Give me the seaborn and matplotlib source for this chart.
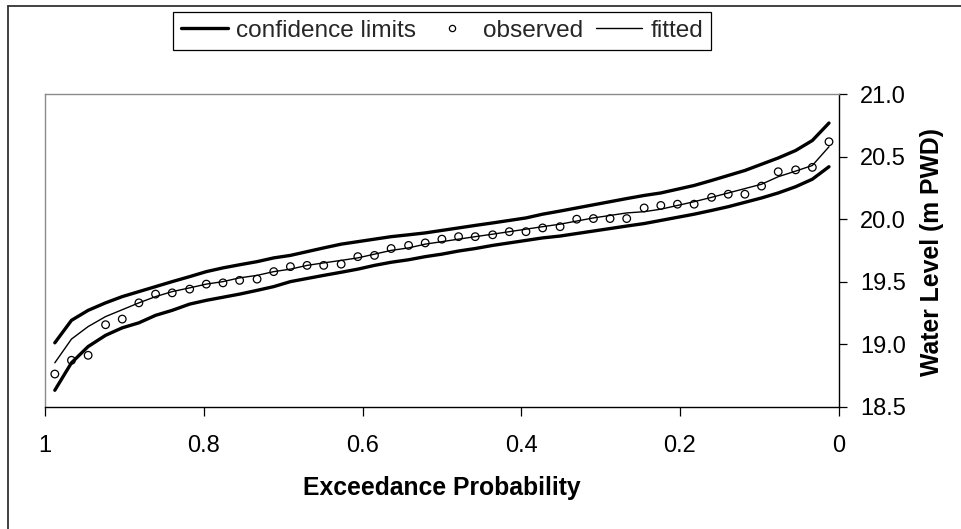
import matplotlib
matplotlib.use("Agg")
import matplotlib.pyplot as plt
from matplotlib.lines import Line2D
import pandas as pd
import seaborn as sns

# ---- data ----
prob = [0.988, 0.967, 0.946, 0.924, 0.903, 0.882, 0.861, 0.840, 0.818, 0.797,
        0.776, 0.755, 0.733, 0.712, 0.691, 0.670, 0.649, 0.627, 0.606, 0.585,
        0.564, 0.542, 0.521, 0.500, 0.479, 0.458, 0.436, 0.415, 0.394, 0.373,
        0.351, 0.330, 0.309, 0.288, 0.267, 0.245, 0.224, 0.203, 0.182, 0.160,
        0.139, 0.118, 0.097, 0.076, 0.054, 0.033, 0.012]

observed = [18.76, 18.87, 18.91, 19.155, 19.20, 19.33, 19.40, 19.41, 19.44, 19.48,
            19.49, 19.51, 19.52, 19.58, 19.62, 19.63, 19.63, 19.64, 19.70, 19.71,
            19.765, 19.79, 19.81, 19.84, 19.86, 19.86, 19.875, 19.90, 19.90, 19.93,
            19.94, 20.00, 20.005, 20.005, 20.005, 20.09, 20.11, 20.12, 20.12, 20.175,
            20.20, 20.20, 20.265, 20.38, 20.395, 20.415, 20.62]

fitted = [18.85, 19.04, 19.14, 19.22, 19.275, 19.33, 19.38, 19.42, 19.45, 19.48,
          19.50, 19.53, 19.55, 19.58, 19.60, 19.63, 19.65, 19.67, 19.69, 19.72,
          19.75, 19.77, 19.80, 19.82, 19.84, 19.86, 19.88, 19.90, 19.92, 19.94,
          19.96, 19.985, 20.01, 20.03, 20.05, 20.06, 20.08, 20.11, 20.14, 20.175,
          20.21, 20.245, 20.28, 20.34, 20.385, 20.43, 20.58]

upper = [19.01, 19.19, 19.27, 19.33, 19.38, 19.42, 19.46, 19.50, 19.54, 19.58,
         19.61, 19.635, 19.66, 19.69, 19.71, 19.74, 19.77, 19.80, 19.82, 19.84,
         19.86, 19.875, 19.89, 19.91, 19.93, 19.95, 19.97, 19.99, 20.01, 20.04,
         20.065, 20.09, 20.115, 20.14, 20.165, 20.19, 20.21, 20.24, 20.27, 20.31,
         20.35, 20.39, 20.44, 20.49, 20.55, 20.63, 20.77]

lower = [18.63, 18.85, 18.98, 19.07, 19.13, 19.17, 19.23, 19.27, 19.32, 19.35,
         19.375, 19.40, 19.43, 19.46, 19.50, 19.525, 19.55, 19.575, 19.60, 19.63,
         19.655, 19.675, 19.70, 19.72, 19.745, 19.765, 19.79, 19.81, 19.83, 19.85,
         19.865, 19.885, 19.905, 19.925, 19.945, 19.965, 19.99, 20.015, 20.04, 20.07,
         20.10, 20.135, 20.17, 20.21, 20.26, 20.32, 20.42]

x_ticks = [1.0, 0.8, 0.6, 0.4, 0.2, 0.0]
x_tick_labels = ["1", "0.8", "0.6", "0.4", "0.2", "0"]
y_ticks = [18.5, 19.0, 19.5, 20.0, 20.5, 21.0]
y_tick_labels = ["18.5", "19.0", "19.5", "20.0", "20.5", "21.0"]

legend_labels = ["confidence limits", "observed", "fitted"]
x_title = "Exceedance Probability"
y_title = "Water Level (m PWD)"

# ---- styling ----
sns.set_theme(style="white")
plt.rcParams['font.family'] = ['Liberation Sans', 'DejaVu Sans']

W, H = 961, 529
fig = plt.figure(figsize=(W / 100, H / 100), dpi=100)
fig.patch.set_facecolor("white")

ax_l, ax_r, ax_t, ax_b = 45.3, 838.5, 94.3, 406.5
ax = fig.add_axes([ax_l / W, 1 - ax_b / H, (ax_r - ax_l) / W, (ax_b - ax_t) / H])
ax.set_facecolor("white")

df = pd.DataFrame({"prob": prob, "observed": observed, "fitted": fitted,
                   "upper": upper, "lower": lower})

sns.lineplot(data=df, x="prob", y="upper", color="black", linewidth=2.4,
             estimator=None, sort=False, ax=ax)
sns.lineplot(data=df, x="prob", y="lower", color="black", linewidth=2.4,
             estimator=None, sort=False, ax=ax)
sns.lineplot(data=df, x="prob", y="fitted", color="black", linewidth=1.0,
             estimator=None, sort=False, ax=ax)
sns.scatterplot(data=df, x="prob", y="observed", marker="o", s=30,
                color="black", facecolor="none", edgecolor="black",
                linewidth=0.9, ax=ax, zorder=3)

ax.set_xlim(1, 0)
ax.set_ylim(18.5, 21.0)
ax.set_xticks(x_ticks)
ax.set_xticklabels(x_tick_labels)
ax.set_yticks(y_ticks)
ax.set_yticklabels(y_tick_labels)

ax.yaxis.tick_right()
ax.yaxis.set_label_position("right")
ax.tick_params(axis="y", which="both", direction="out", right=True, left=False,
               length=5.5, width=0.9, pad=10, labelsize=17, colors="black")
ax.tick_params(axis="x", which="both", direction="out", bottom=True, top=False,
               length=6.5, width=0.9, pad=14, labelsize=17, colors="black")
ax.grid(False)

for side in ["left", "top"]:
    ax.spines[side].set_color("#8a8a8a")
    ax.spines[side].set_linewidth(1.0)
for side in ["bottom", "right"]:
    ax.spines[side].set_color("black")
    ax.spines[side].set_linewidth(1.0)

ax.set_xlabel(x_title, fontsize=17.8, fontweight="bold", color="black")
ax.xaxis.set_label_coords(0.5, (ax_b - 488) / (ax_b - ax_t))
ax.xaxis.label.set_va("center")
ax.set_ylabel(y_title, fontsize=17.8, fontweight="bold", color="black",
              rotation=90)
ax.yaxis.set_label_coords((932 - ax_l) / (ax_r - ax_l), (ax_b - 252) / (ax_b - ax_t))
ax.yaxis.label.set_va("center")
ax.yaxis.label.set_ha("center")

# legend
h1 = Line2D([], [], color="black", linewidth=2.4)
h2 = Line2D([], [], color="black", marker="o", linestyle="", markersize=4.5,
            markerfacecolor="none", markeredgewidth=0.9)
h3 = Line2D([], [], color="black", linewidth=1.0)
leg = fig.legend([h1, h2, h3], legend_labels, loc="upper left",
                 bbox_to_anchor=(173 / W, 1 - 11.5 / H), ncol=3, frameon=True,
                 fancybox=False, edgecolor="black", framealpha=1,
                 borderaxespad=0, borderpad=0.33, handlelength=1.9,
                 handletextpad=0.35, columnspacing=0.5, fontsize=17.6)
leg.get_frame().set_linewidth(0.9)

# outer chart frame (top and left edges visible)
fig.add_artist(Line2D([8 / W, 1.0], [1 - 6 / H, 1 - 6 / H],
                      transform=fig.transFigure, color="#333333", linewidth=1.3))
fig.add_artist(Line2D([8 / W, 8 / W], [0.0, 1 - 6 / H],
                      transform=fig.transFigure, color="#333333", linewidth=1.3))

fig.savefig("out.png", dpi=100, facecolor="white")
